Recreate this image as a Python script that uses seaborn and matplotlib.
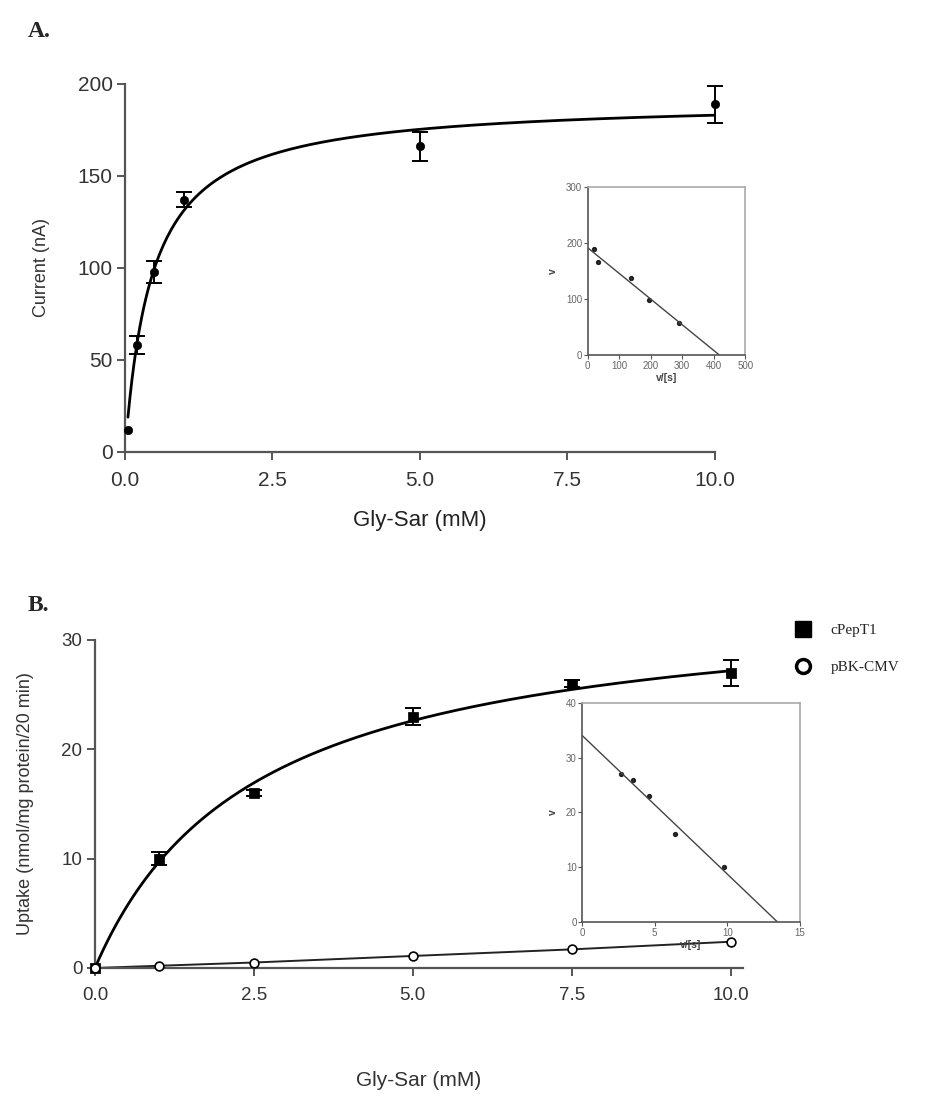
import numpy as np
import pandas as pd
import seaborn as sns
from matplotlib import pyplot as plt
from matplotlib.lines import Line2D

sns.set_style("ticks")
plt.rcParams["font.family"] = ["Liberation Sans", "DejaVu Sans"]

# Panel A: current vs Gly-Sar
glysar_a = [0.05, 0.2, 0.5, 1.0, 5.0, 10.0]
current_a = [12, 58, 98, 137, 166, 189]
current_a_err = [0, 5, 6, 4, 8, 10]

# Panel A inset (Eadie-Hofstee: v vs v/[s])
inset_a_vs = [19, 33, 137, 196, 290]
inset_a_v = [189, 166, 137, 98, 58]

# Panel B: uptake vs Gly-Sar
glysar_b = [0, 1, 2.5, 5, 7.5, 10]
uptake_pept1 = [0, 10, 16, 23, 26, 27]
uptake_pept1_err = [0, 0.6, 0.3, 0.8, 0.3, 1.2]
uptake_vector = [0, 0.2, 0.5, 1.1, 1.7, 2.4]

# Panel B inset
inset_b_vs = [2.7, 3.5, 4.6, 6.4, 9.8]
inset_b_v = [27, 26, 23, 16, 10]

AX_COL = "#555555"
TXT_COL = "#333333"


def style_main(ax, xb, yb, lsize):
    sns.despine(ax=ax)
    ax.spines["left"].set_bounds(*yb)
    ax.spines["bottom"].set_bounds(*xb)
    for s in ["left", "bottom"]:
        ax.spines[s].set_color(AX_COL)
        ax.spines[s].set_linewidth(1.6)
    ax.tick_params(direction="out", length=6, width=1.4, color=AX_COL,
                   labelcolor=TXT_COL, labelsize=lsize, pad=3)
    ax.tick_params(axis="x", pad=8)


def style_inset(ax):
    for s in ["top", "right"]:
        ax.spines[s].set_visible(True)
        ax.spines[s].set_color("#aaaaaa")
        ax.spines[s].set_linewidth(1.2)
    for s in ["left", "bottom"]:
        ax.spines[s].set_color(AX_COL)
        ax.spines[s].set_linewidth(1.2)
    ax.tick_params(direction="out", length=3, width=0.8, color=AX_COL,
                   labelcolor="#666666", labelsize=7, pad=1)


def mm_fit(vs, v):
    slope, intercept = np.polyfit(vs, v, 1)
    return -slope, intercept  # Km, Vmax


def err_bars(ax, x, y, err):
    df = pd.DataFrame({"x": x, "y": y, "e": err})
    df = df[df["e"] > 0]
    ax.errorbar(df["x"], df["y"], yerr=df["e"], fmt="none", ecolor="black",
                elinewidth=1.4, capsize=6, capthick=1.4, clip_on=False)


fig = plt.figure(figsize=(9.42, 11.13), dpi=100)

# ---------- Panel A ----------
axA = fig.add_axes([0.1327, 0.594, 0.626, 0.3306])
km_a, vmax_a = mm_fit(inset_a_vs, inset_a_v)
s_fit = np.linspace(min(glysar_a), max(glysar_a), 300)
sns.lineplot(x=s_fit, y=vmax_a * s_fit / (km_a + s_fit), ax=axA,
             color="black", lw=2)
err_bars(axA, glysar_a, current_a, current_a_err)
sns.scatterplot(x=glysar_a, y=current_a, ax=axA, color="black", marker="o",
                s=36, edgecolor="black", zorder=5, clip_on=False)
axA.set_xlim(0, 10)
axA.set_ylim(0, 200)
axA.set_xticks([0, 2.5, 5, 7.5, 10])
axA.set_xticklabels(["0.0", "2.5", "5.0", "7.5", "10.0"])
axA.set_yticks([0, 50, 100, 150, 200])
style_main(axA, (0, 10), (0, 200), 15)
axA.set_xlabel("Gly-Sar (mM)", fontsize=16, color="#222222", labelpad=14)
axA.set_ylabel("Current (nA)", fontsize=13, color=TXT_COL, labelpad=20)

# Inset A
inA = fig.add_axes([0.624, 0.681, 0.167, 0.151])
inA.set_xlim(0, 500)
inA.set_ylim(0, 300)
sns.regplot(x=inset_a_vs, y=inset_a_v, ax=inA, ci=None, truncate=False,
            scatter_kws=dict(s=8, color="black"),
            line_kws=dict(color="#444444", lw=1.0))
inA.set_xlim(0, 500)
inA.set_ylim(0, 300)
inA.set_xticks([0, 100, 200, 300, 400, 500])
inA.set_yticks([0, 100, 200, 300])
style_inset(inA)
inA.set_xlabel("v/[s]", fontsize=7.5, fontweight="bold", color="#444444",
               labelpad=2)
inA.set_ylabel("v", fontsize=7.5, fontweight="bold", color="#444444",
               labelpad=6)

# ---------- Panel B ----------
axB = fig.add_axes([0.1008, 0.1303, 0.6882, 0.2947])
km_b, vmax_b = mm_fit(inset_b_vs, inset_b_v)
s_fit_b = np.linspace(0, 10, 300)
sns.lineplot(x=s_fit_b, y=vmax_b * s_fit_b / (km_b + s_fit_b), ax=axB,
             color="black", lw=2)
sns.lineplot(x=glysar_b, y=uptake_vector, ax=axB, color="#222222", lw=1.4)
err_bars(axB, glysar_b, uptake_pept1, uptake_pept1_err)
sns.scatterplot(x=glysar_b, y=uptake_pept1, ax=axB, color="black",
                marker="s", s=45, edgecolor="black", zorder=5, clip_on=False)
sns.scatterplot(x=glysar_b, y=uptake_vector, ax=axB, color="white",
                marker="o", s=40, edgecolor="black", linewidth=1.2,
                zorder=5, clip_on=False)
axB.set_xlim(0, 10.2)
axB.set_ylim(0, 30)
axB.set_xticks([0, 2.5, 5, 7.5, 10])
axB.set_xticklabels(["0.0", "2.5", "5.0", "7.5", "10.0"])
axB.set_yticks([0, 10, 20, 30])
style_main(axB, (0, 10.2), (0, 30), 13.5)
axB.set_xlabel("Gly-Sar (mM)", fontsize=15, color=TXT_COL, labelpad=48)
axB.set_ylabel("Uptake (nmol/mg protein/20 min)", fontsize=13,
               color=TXT_COL, labelpad=20)

# Inset B
inB = fig.add_axes([0.618, 0.1716, 0.231, 0.1968])
inB.set_xlim(0, 15)
inB.set_ylim(0, 40)
sns.regplot(x=inset_b_vs, y=inset_b_v, ax=inB, ci=None, truncate=False,
            scatter_kws=dict(s=8, color="black"),
            line_kws=dict(color="#444444", lw=1.0))
inB.set_xlim(0, 15)
inB.set_ylim(0, 40)
inB.set_xticks([0, 5, 10, 15])
inB.set_yticks([0, 10, 20, 30, 40])
style_inset(inB)
inB.set_xlabel("v/[s]", fontsize=7.5, fontweight="bold", color="#444444",
               labelpad=2)
inB.set_ylabel("v", fontsize=7.5, fontweight="bold", color="#444444",
               labelpad=6)

# Legend for panel B
handles = [
    Line2D([], [], ls="none", marker="s", ms=11, mfc="black", mec="black"),
    Line2D([], [], ls="none", marker="o", ms=10, mfc="white", mec="black",
           mew=2.5),
]
fig.legend(handles, ["cPepT1", "pBK-CMV"], loc="upper left",
           bbox_to_anchor=(0.822, 0.452), frameon=False, handletextpad=0.8,
           labelspacing=1.5, prop=dict(family="Liberation Serif", size=11))

# Panel letters
fig.text(0.029, 0.972, "A.", fontsize=17, fontweight="bold",
         family="Liberation Serif", va="center")
fig.text(0.029, 0.456, "B.", fontsize=17, fontweight="bold",
         family="Liberation Serif", va="center")

fig.savefig("out.png", dpi=100)
